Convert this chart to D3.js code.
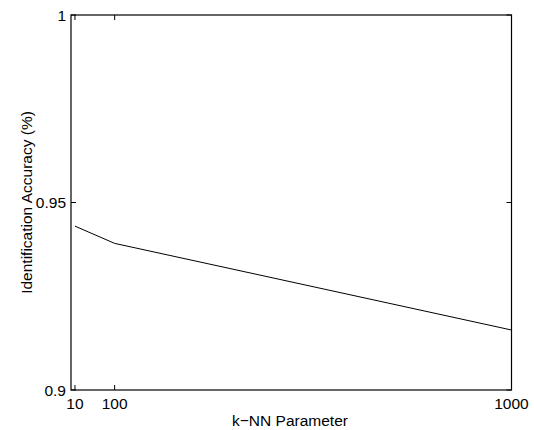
<!DOCTYPE html>
<html><head><meta charset="utf-8">
<script src="https://cdn.jsdelivr.net/npm/d3@7"></script>
<style>body{margin:0;background:#fff}svg{display:block}text{font-family:"Liberation Sans",Arial,sans-serif;fill:#000}</style>
</head><body>
<svg id="c" width="534" height="430"></svg>
<script>
const kValues = [10, 100, 1000];
const accuracy = [0.9437, 0.9391, 0.9160];
const xTicks = [10, 100, 1000];
const yTicks = [0.9, 0.95, 1];
const xLabel = "k\u2212NN Parameter";
const yLabel = "Identification Accuracy (%)";

const svg = d3.select("#c");
const L = 71, R = 511.5, T = 15, B = 390;
const x = d3.scaleLinear().domain([1, 1000]).range([L, R]);
const y = d3.scaleLinear().domain([0.9, 1]).range([B, T]);
const fs = 15.5;

const g = svg.append("g");
const tl = 5;
xTicks.forEach(t => {
  g.append("line").attr("x1", x(t)).attr("x2", x(t)).attr("y1", B).attr("y2", B - tl).attr("stroke", "#000").attr("stroke-width", 1);
  g.append("line").attr("x1", x(t)).attr("x2", x(t)).attr("y1", T).attr("y2", T + tl).attr("stroke", "#000").attr("stroke-width", 1);
  g.append("text").attr("x", x(t)).attr("y", B + 19).attr("text-anchor", "middle").attr("font-size", fs).text(t);
});
yTicks.forEach(t => {
  g.append("line").attr("x1", L).attr("x2", L + tl).attr("y1", y(t)).attr("y2", y(t)).attr("stroke", "#000").attr("stroke-width", 1);
  g.append("line").attr("x1", R).attr("x2", R - tl).attr("y1", y(t)).attr("y2", y(t)).attr("stroke", "#000").attr("stroke-width", 1);
  g.append("text").attr("x", L - 5).attr("y", y(t) + 5.5).attr("text-anchor", "end").attr("font-size", fs).text(d3.format("")(t));
});
g.append("rect").attr("x", L).attr("y", T).attr("width", R - L).attr("height", B - T)
  .attr("fill", "none").attr("stroke", "#000").attr("stroke-width", 1.2);

const pts = kValues.map((k, i) => [k, accuracy[i]]);
g.append("path").datum(pts)
  .attr("d", d3.line().x(d => x(d[0])).y(d => y(d[1])))
  .attr("fill", "none").attr("stroke", "#000").attr("stroke-width", 1);

g.append("text").attr("x", 290).attr("y", 426).attr("text-anchor", "middle").attr("font-size", fs).text(xLabel);
g.append("text").attr("transform", `translate(32,${(T + B) / 2}) rotate(-90)`).attr("text-anchor", "middle").attr("font-size", fs).text(yLabel);
</script>
</body></html>
